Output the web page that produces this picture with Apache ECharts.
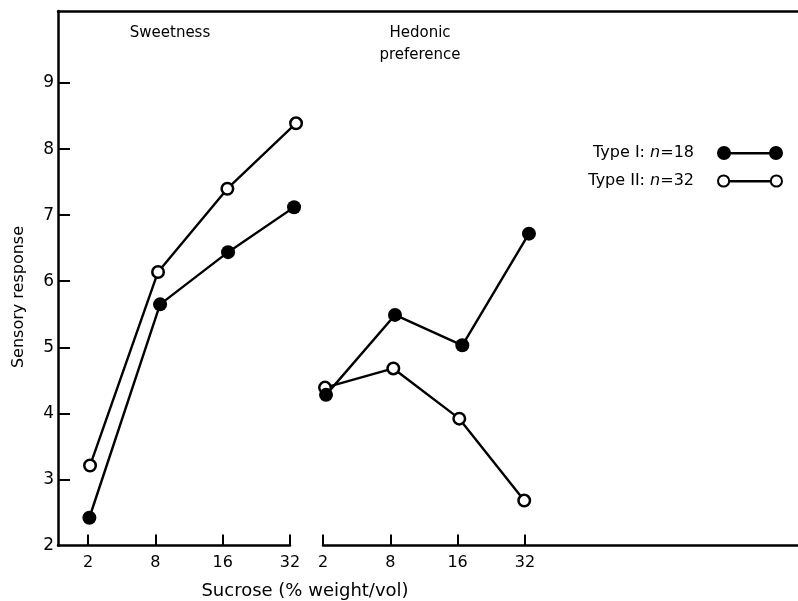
<!DOCTYPE html>
<html>
<head>
<meta charset="utf-8">
<script src="https://cdn.jsdelivr.net/npm/echarts@6/dist/echarts.min.js"></script>
<style>html,body{margin:0;padding:0;background:#fff;}#c{width:798px;height:601px;}</style>
</head>
<body>
<div id="c"></div>
<script>
// Tick labels (sucrose concentration, % weight/vol) and y ticks
const concLabels = ['2', '8', '16', '32'];
const concTicks = [0, 1, 2, 3];
const yLabelValues = [2, 3, 4, 5, 6, 7, 8, 9];
const yTickValues = [3, 4, 5, 6, 7, 8, 9];

// Sweetness panel (x = concentration step as plotted, y = sensory response)
const sweetTypeI_x  = [0.02, 1.07, 2.08, 3.06];
const sweetTypeI_y  = [2.42, 5.65, 6.44, 7.12];
const sweetTypeII_x = [0.03, 1.04, 2.07, 3.09];
const sweetTypeII_y = [3.21, 6.14, 7.40, 8.39];

// Hedonic preference panel
const hedTypeI_x  = [0.045, 1.07, 2.07, 3.06];
const hedTypeI_y  = [4.28, 5.49, 5.03, 6.72];
const hedTypeII_x = [0.03, 1.045, 2.025, 2.99];
const hedTypeII_y = [4.39, 4.68, 3.92, 2.68];

const zip = (xs, ys) => xs.map((x, i) => [x, ys[i]]);

const FONT = 'DejaVu Sans';
const BLACK = '#000';

const filledIcon = 'path://M0,7A7,7,0,1,1,14,7A7,7,0,1,1,0,7Z M12,6L54,6L54,8.5L12,8.5Z M52,7A7,7,0,1,1,66,7A7,7,0,1,1,52,7Z';
const openIcon = 'path://M0.5,7A6.5,6.5,0,1,1,13.5,7A6.5,6.5,0,1,1,0.5,7Z M2.5,7A4.5,4.5,0,1,0,11.5,7A4.5,4.5,0,1,0,2.5,7Z ' +
  'M12,6L54,6L54,8.5L12,8.5Z M52.5,7A6.5,6.5,0,1,1,65.5,7A6.5,6.5,0,1,1,52.5,7Z M54.5,7A4.5,4.5,0,1,0,63.5,7A4.5,4.5,0,1,0,54.5,7Z';

const openStyle = { symbol: 'circle', symbolSize: 11.5, clip: false, itemStyle: { color: '#fff', borderColor: BLACK, borderWidth: 2.5 }, lineStyle: { color: BLACK, width: 2.4 } };
const filledStyle = { symbol: 'circle', symbolSize: 14, clip: false, itemStyle: { color: BLACK }, lineStyle: { color: BLACK, width: 2.4 } };

const axisLineStyle = { show: true, onZero: false, lineStyle: { color: BLACK, width: 2.5 } };
const xAxisBase = (grid, max, min) => ({
  type: 'value', gridIndex: grid, min: min, max: max,
  axisLine: axisLineStyle,
  axisTick: { show: true, inside: true, length: 11, lineStyle: { color: BLACK, width: 2 }, customValues: concTicks },
  axisLabel: { show: true, customValues: concTicks, formatter: v => concLabels[Math.round(v)], color: BLACK, fontFamily: FONT, fontSize: 16, margin: 9 },
  splitLine: { show: false }
});

const option = {
  animation: false,
  backgroundColor: '#fff',
  grid: [
    { left: 58, width: 232, top: 11, bottom: 55.5 },
    { left: 323, right: 0, top: 11, bottom: 55.5 },
    { left: 58, right: 0, top: 11, bottom: 55.5 }
  ],
  xAxis: [
    xAxisBase(0, 3, -0.446),
    xAxisBase(1, 7.058, 0),
    { type: 'value', gridIndex: 2, position: 'top', min: 0, max: 1, axisLine: axisLineStyle, axisTick: { show: false }, axisLabel: { show: false }, splitLine: { show: false } }
  ],
  yAxis: [
    { type: 'value', gridIndex: 0, min: 2, max: 10.09,
      axisLine: axisLineStyle,
      axisTick: { show: true, inside: true, length: 12, lineStyle: { color: BLACK, width: 2 }, customValues: yTickValues },
      axisLabel: { show: true, customValues: yLabelValues, color: BLACK, fontFamily: FONT, fontSize: 17, margin: 4 },
      splitLine: { show: false } },
    { type: 'value', gridIndex: 1, min: 2, max: 10.09, show: false, splitLine: { show: false } },
    { type: 'value', gridIndex: 2, min: 0, max: 1, show: false, splitLine: { show: false } }
  ],
  legend: {
    orient: 'vertical', right: 10, top: 140, align: 'right',
    itemWidth: 66, itemHeight: 14, itemGap: 12, selectedMode: false,
    data: [
      { name: 'Type I', icon: filledIcon, itemStyle: { color: BLACK, borderWidth: 0 } },
      { name: 'Type II', icon: openIcon, itemStyle: { color: BLACK, borderWidth: 0 } }
    ],
    formatter: name => name === 'Type I' ? 'Type I: {i|n}=18' : 'Type II: {i|n}=32',
    textStyle: { color: BLACK, fontFamily: FONT, fontSize: 16, padding: [0, 18, 0, 0],
      rich: { i: { fontStyle: 'italic', fontFamily: FONT, fontSize: 16, color: BLACK } } }
  },
  graphic: [
    { type: 'text', x: 170, y: 33, style: { text: 'Sweetness', font: '15px "DejaVu Sans"', fill: BLACK, align: 'center', verticalAlign: 'middle' } },
    { type: 'text', x: 420, y: 33, style: { text: 'Hedonic', font: '15px "DejaVu Sans"', fill: BLACK, align: 'center', verticalAlign: 'middle' } },
    { type: 'text', x: 420, y: 55, style: { text: 'preference', font: '15px "DejaVu Sans"', fill: BLACK, align: 'center', verticalAlign: 'middle' } },
    { type: 'text', x: 305, y: 591, style: { text: 'Sucrose (% weight/vol)', font: '18px "DejaVu Sans"', fill: BLACK, align: 'center', verticalAlign: 'middle' } },
    { type: 'text', x: 19, y: 297, rotation: Math.PI / 2, style: { text: 'Sensory response', font: '16px "DejaVu Sans"', fill: BLACK, align: 'center', verticalAlign: 'middle' } }
  ],
  series: [
    Object.assign({ type: 'line', name: 'Type II', xAxisIndex: 0, yAxisIndex: 0, data: zip(sweetTypeII_x, sweetTypeII_y) }, openStyle),
    Object.assign({ type: 'line', name: 'Type I', xAxisIndex: 0, yAxisIndex: 0, data: zip(sweetTypeI_x, sweetTypeI_y) }, filledStyle),
    Object.assign({ type: 'line', name: 'Type II', xAxisIndex: 1, yAxisIndex: 1, data: zip(hedTypeII_x, hedTypeII_y) }, openStyle),
    Object.assign({ type: 'line', name: 'Type I', xAxisIndex: 1, yAxisIndex: 1, data: zip(hedTypeI_x, hedTypeI_y) }, filledStyle)
  ]
};

const chart = echarts.init(document.getElementById('c'), null, { renderer: 'canvas' });
chart.setOption(option);
</script>
</body>
</html>
